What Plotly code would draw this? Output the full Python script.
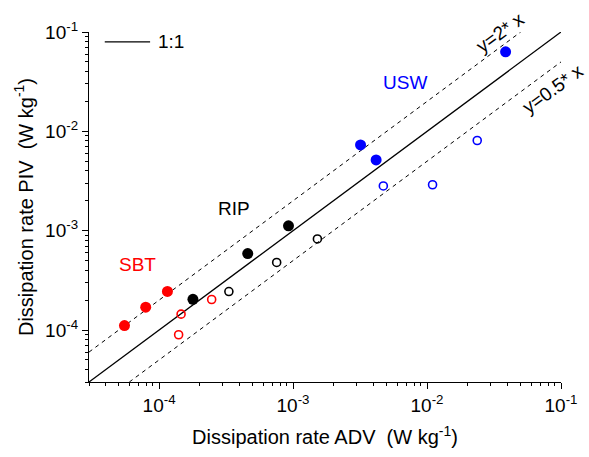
import numpy as np
import plotly.graph_objects as go

# Dissipation rates (W kg^-1): ADV on x, PIV on y
sbt_fill_x = [5.52e-5, 7.95e-5, 1.155e-4]
sbt_fill_y = [1.11e-4, 1.70e-4, 2.45e-4]
sbt_open_x = [1.46e-4, 1.40e-4, 2.47e-4]
sbt_open_y = [1.445e-4, 8.97e-5, 2.03e-4]

rip_fill_x = [1.79e-4, 4.59e-4, 9.25e-4]
rip_fill_y = [2.04e-4, 5.89e-4, 1.12e-3]
rip_open_x = [3.32e-4, 7.55e-4, 1.52e-3]
rip_open_y = [2.44e-4, 4.79e-4, 8.26e-4]

usw_fill_x = [3.19e-3, 4.17e-3, 3.86e-2]
usw_fill_y = [7.30e-3, 5.16e-3, 6.31e-2]
usw_open_x = [4.72e-3, 1.10e-2, 2.37e-2]
usw_open_y = [2.82e-3, 2.90e-3, 8.09e-3]

# reference lines y = k * x
line_11_x = [3e-5, 1e-1]
line_2x_x = [3e-5, 5e-2]
line_05x_x = [6e-5, 1e-1]

major_ticks = [1e-4, 1e-3, 1e-2, 1e-1]
major_text = ["10<sup>-4</sup>", "10<sup>-3</sup>", "10<sup>-2</sup>", "10<sup>-1</sup>"]
minor_ticks = [m * 10.0 ** e for e in range(-5, -1) for m in range(2, 10)]

RED, BLACK, BLUE = "#ff0000", "#000000", "#0000ff"
FONT = "Liberation Sans, Arial, sans-serif"

fig = go.Figure()

fig.add_trace(go.Scatter(x=line_11_x, y=line_11_x, mode="lines",
                         line=dict(color="black", width=1.3), showlegend=False))
fig.add_trace(go.Scatter(x=line_2x_x, y=[2 * v for v in line_2x_x], mode="lines",
                         line=dict(color="black", width=1, dash="4px,4px"), showlegend=False))
fig.add_trace(go.Scatter(x=line_05x_x, y=[0.5 * v for v in line_05x_x], mode="lines",
                         line=dict(color="black", width=1, dash="4px,4px"), showlegend=False))


def filled(x, y, c):
    return go.Scatter(x=x, y=y, mode="markers", showlegend=False, cliponaxis=False,
                      marker=dict(symbol="circle", size=11, color=c, line=dict(width=0)))


def hollow(x, y, c):
    return go.Scatter(x=x, y=y, mode="markers", showlegend=False, cliponaxis=False,
                      marker=dict(symbol="circle-open", size=8, color=c, line=dict(width=1.6, color=c)))


for tr in [filled(sbt_fill_x, sbt_fill_y, RED), hollow(sbt_open_x, sbt_open_y, RED),
           filled(rip_fill_x, rip_fill_y, BLACK), hollow(rip_open_x, rip_open_y, BLACK),
           filled(usw_fill_x, usw_fill_y, BLUE), hollow(usw_open_x, usw_open_y, BLUE)]:
    fig.add_trace(tr)

axis_common = dict(
    type="log", tickvals=major_ticks, ticktext=major_text, ticks="outside", ticklen=6,
    tickwidth=1.2, tickcolor="black", showline=True, linecolor="black", linewidth=1.3,
    showgrid=False, zeroline=False, mirror=False,
    tickfont=dict(family=FONT, size=19, color="black"),
    minor=dict(tickvals=minor_ticks, ticks="outside", ticklen=3, tickwidth=1, tickcolor="black",
               showgrid=False),
)

fig.update_xaxes(**axis_common, range=[np.log10(3e-5), -1],
                 title=dict(text="Dissipation rate ADV  (W kg<sup>-1</sup>)",
                            font=dict(family=FONT, size=20, color="black"), standoff=15))
fig.update_yaxes(**axis_common, range=[np.log10(3e-5), -1],
                 title=dict(text="Dissipation rate PIV  (W kg<sup>-1</sup>)",
                            font=dict(family=FONT, size=20, color="black"), standoff=6))

ann_font = dict(family=FONT, size=19)
annotations = [
    dict(x=-4.162, y=-3.34, text="SBT", font=dict(**ann_font, color=RED)),
    dict(x=-3.44, y=-2.78, text="RIP", font=dict(**ann_font, color=BLACK)),
    dict(x=-2.167, y=-1.507, text="USW", font=dict(**ann_font, color=BLUE)),
    dict(x=-1.456, y=-1.0, text="y=2* x", textangle=-36, font=dict(**ann_font, color=BLACK)),
    dict(x=-1.057, y=-1.57, text="y=0.5* x", textangle=-36, font=dict(**ann_font, color=BLACK)),
]
for a in annotations:
    fig.add_annotation(xref="x", yref="y", showarrow=False, **a)

# legend key for the 1:1 line
fig.add_shape(type="line", xref="paper", yref="paper", x0=16 / 479, x1=62 / 479,
              y0=1 - 10 / 351, y1=1 - 10 / 351, line=dict(color="black", width=1.3))
fig.add_annotation(xref="paper", yref="paper", x=68 / 479, y=1 - 10 / 351, text="1:1",
                   showarrow=False, xanchor="left", yanchor="middle",
                   font=dict(family=FONT, size=19, color="black"))

fig.update_layout(
    width=589, height=457, margin=dict(l=89, r=21, t=32, b=74),
    plot_bgcolor="white", paper_bgcolor="white", showlegend=False,
    font=dict(family=FONT, color="black"),
)

fig.write_html("out.html")
